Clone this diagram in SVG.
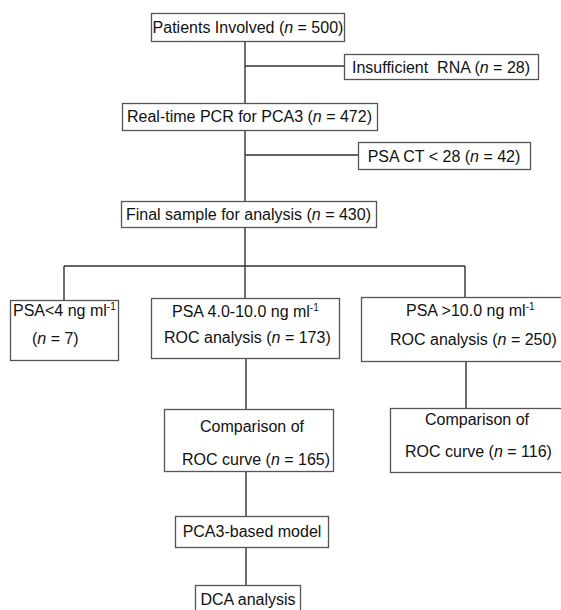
<svg xmlns="http://www.w3.org/2000/svg" width="561" height="610" viewBox="0 0 561 610">
<style>
.box{fill:#fff;stroke:#555;stroke-width:1.3}
.ln{fill:none;stroke:#333;stroke-width:1.4}
text{font-family:"Liberation Sans",Arial,sans-serif;font-size:16px;fill:#111}
.m{text-anchor:middle}
.i{font-style:italic}
.sup{font-size:10px}
</style>
<rect width="561" height="610" fill="#fff"/>
<g id="connectors">
<path class="ln" d="M245,41V103 M245,66H344 M245,130V201 M245,155H358 M245,227V266 M64,266H465 M64,266V300 M245,266V299 M465,266V297 M246,359V409 M466,361V408 M246,471V516 M246,547V585"/>
</g>
<g id="n1"><rect class="box" x="151.5" y="13.5" width="193" height="28"/><text class="m" x="248" y="33">Patients Involved (<tspan class="i">n</tspan> = 500)</text></g>
<g id="n2"><rect class="box" x="344.5" y="54.5" width="194" height="25"/><text class="m" x="441" y="73" xml:space="preserve">Insufficient  RNA (<tspan class="i">n</tspan> = 28)</text></g>
<g id="n3"><rect class="box" x="122.5" y="103.5" width="255" height="27"/><text class="m" x="249.5" y="122">Real-time PCR for PCA3 (<tspan class="i">n</tspan> = 472)</text></g>
<g id="n4"><rect class="box" x="358.5" y="142.5" width="172" height="27"/><text class="m" x="444" y="162">PSA CT &lt; 28 (<tspan class="i">n</tspan> = 42)</text></g>
<g id="n5"><rect class="box" x="121.5" y="201.5" width="255" height="26"/><text class="m" x="248.5" y="220">Final sample for analysis (<tspan class="i">n</tspan> = 430)</text></g>
<g id="n6"><rect class="box" x="10.5" y="300.5" width="108" height="60"/><text x="13" y="316">PSA&lt;4 ng ml<tspan class="sup" dy="-6">-1</tspan></text><text x="32" y="344">(<tspan class="i">n</tspan> = 7)</text></g>
<g id="n7"><rect class="box" x="151.5" y="298.5" width="188" height="60"/><text x="172" y="317">PSA 4.0-10.0 ng ml<tspan class="sup" dy="-6">-1</tspan></text><text x="164" y="343">ROC analysis (<tspan class="i">n</tspan> = 173)</text></g>
<g id="n8"><rect class="box" x="361.5" y="297.5" width="205" height="64"/><text x="406" y="316">PSA &gt;10.0 ng ml<tspan class="sup" dy="-6">-1</tspan></text><text x="390" y="345">ROC analysis (<tspan class="i">n</tspan> = 250)</text></g>
<g id="n9"><rect class="box" x="164.5" y="409.5" width="169" height="62"/><text x="200" y="432">Comparison of</text><text x="182" y="465">ROC curve (<tspan class="i">n</tspan> = 165)</text></g>
<g id="n10"><rect class="box" x="390.5" y="408.5" width="176" height="64"/><text x="425" y="425">Comparison of</text><text x="405" y="457">ROC curve (<tspan class="i">n</tspan> = 116)</text></g>
<g id="n11"><rect class="box" x="175.5" y="516.5" width="153" height="31"/><text class="m" x="252" y="537">PCA3-based model</text></g>
<g id="n12"><rect class="box" x="195.5" y="585.5" width="105" height="30"/><text class="m" x="248" y="605">DCA analysis</text></g>
</svg>
